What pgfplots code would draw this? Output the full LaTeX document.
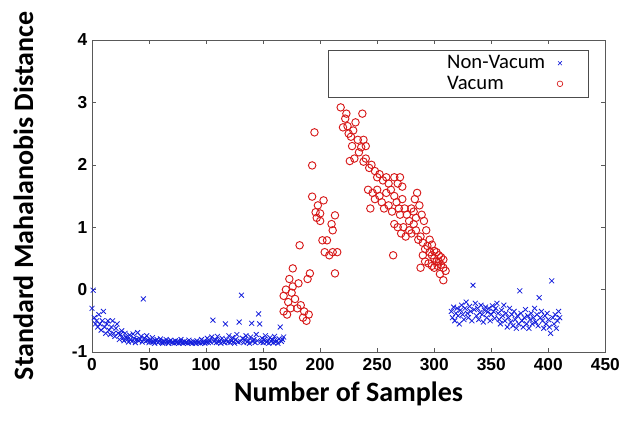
\documentclass[border=0pt]{standalone}
\usepackage{pgfplots}
\pgfplotsset{compat=1.18}
\usepackage{fontspec}
\setmainfont{Liberation Sans}
\newfontfamily\labelfont{Carlito}

\definecolor{nvblue}{RGB}{20,30,220}
\definecolor{vred}{RGB}{215,25,25}

\begin{document}
\begin{tikzpicture}
\begin{axis}[
    name=ax,
    scale only axis,
    width=385pt, height=234pt,
    xmin=0, xmax=450, ymin=-1, ymax=4,
    xtick={0,50,...,450}, ytick={-1,0,...,4},
    tick label style={font=\bfseries\fontsize{13}{15}\selectfont},
    xticklabel style={yshift=-1pt},
    /pgf/number format/assume math mode=true,
    axis line style={black!65},
    tick style={black!65},
    major tick length=3pt,
    xlabel={\labelfont\bfseries\fontsize{21}{24}\selectfont Number of Samples},
    ylabel={\labelfont\bfseries\fontsize{21}{24}\selectfont Standard Mahalanobis Distance},
    xlabel style={at={(axis description cs:0.5,-0.135)}, anchor=center},
    ylabel style={yshift=22pt},
    legend plot pos=right,
    legend cell align=left,
    legend image post style={mark size=2.1pt, line width=0.5pt},
    legend style={at={(0.967,0.968)}, anchor=north east, draw=black!70,
        font=\labelfont\fontsize{15.5}{17}\selectfont, row sep=0pt,
        inner xsep=19pt, inner ysep=2pt,
        /tikz/every odd column/.append style={column sep=7pt}},
]

% Non-Vacum
\addplot[only marks, mark=x, mark size=2.6pt, color=nvblue, line width=0.6pt] coordinates {
(0,-0.3) (1,-0.01) (2,-0.45) (3,-0.55) (4,-0.5) (5,-0.6) (6,-0.4) (7,-0.55) (8,-0.65) (9,-0.5)
(10,-0.35) (11,-0.6) (12,-0.7) (13,-0.55) (14,-0.5) (15,-0.65) (16,-0.72) (17,-0.6) (18,-0.5) (19,-0.7)
(20,-0.75) (21,-0.62) (22,-0.55) (23,-0.7) (24,-0.8) (25,-0.72) (26,-0.66) (27,-0.78) (28,-0.82) (29,-0.7)
(30,-0.76) (31,-0.8) (32,-0.84) (33,-0.73) (34,-0.8) (35,-0.83) (36,-0.71) (37,-0.78) (38,-0.85) (39,-0.8)
(40,-0.69) (41,-0.82) (42,-0.79) (43,-0.75) (44,-0.84) (45,-0.15) (46,-0.78) (47,-0.83) (48,-0.74) (49,-0.81)
(50,-0.85) (51,-0.8) (52,-0.84) (53,-0.77) (54,-0.83) (55,-0.86) (56,-0.82) (57,-0.8) (58,-0.85) (59,-0.83)
(60,-0.79) (61,-0.84) (62,-0.86) (63,-0.82) (64,-0.85) (65,-0.8) (66,-0.84) (67,-0.86) (68,-0.83) (69,-0.81)
(70,-0.85) (71,-0.84) (72,-0.86) (73,-0.82) (74,-0.85) (75,-0.83) (76,-0.86) (77,-0.84) (78,-0.8) (79,-0.85)
(80,-0.86) (81,-0.83) (82,-0.85) (83,-0.84) (84,-0.86) (85,-0.81) (86,-0.85) (87,-0.84) (88,-0.86) (89,-0.83)
(90,-0.85) (91,-0.86) (92,-0.82) (93,-0.85) (94,-0.84) (95,-0.86) (96,-0.8) (97,-0.85) (98,-0.83) (99,-0.86)
(100,-0.84) (101,-0.78) (102,-0.85) (103,-0.82) (104,-0.84) (105,-0.76) (106,-0.49) (107,-0.83) (108,-0.8) (109,-0.85)
(110,-0.75) (111,-0.84) (112,-0.82) (113,-0.86) (114,-0.78) (115,-0.83) (116,-0.85) (117,-0.55) (118,-0.8) (119,-0.84)
(120,-0.74) (121,-0.85) (122,-0.82) (123,-0.77) (124,-0.84) (125,-0.86) (126,-0.8) (127,-0.72) (128,-0.84) (129,-0.52)
(130,-0.83) (131,-0.09) (132,-0.78) (133,-0.85) (134,-0.8) (135,-0.74) (136,-0.84) (137,-0.82) (138,-0.86) (139,-0.76)
(140,-0.54) (141,-0.83) (142,-0.8) (143,-0.85) (144,-0.72) (145,-0.82) (146,-0.39) (147,-0.55) (148,-0.84) (149,-0.78)
(150,-0.85) (151,-0.8) (152,-0.74) (153,-0.84) (154,-0.82) (155,-0.86) (156,-0.77) (157,-0.83) (158,-0.8) (159,-0.85)
(160,-0.75) (161,-0.84) (162,-0.82) (163,-0.86) (164,-0.79) (165,-0.6) (166,-0.83) (167,-0.8) (168,-0.76)
(315,-0.35) (316,-0.45) (317,-0.28) (318,-0.5) (319,-0.38) (320,-0.3) (321,-0.42) (322,-0.55) (323,-0.33) (324,-0.25)
(325,-0.4) (326,-0.48) (327,-0.3) (328,-0.2) (329,-0.38) (330,-0.45) (331,-0.27) (332,-0.35) (333,-0.5) (334,0.07)
(335,-0.32) (336,-0.22) (337,-0.42) (338,-0.3) (339,-0.48) (340,-0.37) (341,-0.25) (342,-0.4) (343,-0.52) (344,-0.33)
(345,-0.28) (346,-0.45) (347,-0.36) (348,-0.3) (349,-0.5) (350,-0.4) (351,-0.26) (352,-0.35) (353,-0.46) (354,-0.3)
(355,-0.22) (356,-0.38) (357,-0.48) (358,-0.55) (359,-0.33) (360,-0.42) (361,-0.25) (362,-0.5) (363,-0.38) (364,-0.6)
(365,-0.45) (366,-0.3) (367,-0.52) (368,-0.4) (369,-0.58) (370,-0.35) (371,-0.48) (372,-0.62) (373,-0.42) (374,-0.55)
(375,-0.02) (376,-0.38) (377,-0.5) (378,-0.6) (379,-0.45) (380,-0.32) (381,-0.55) (382,-0.42) (383,-0.62) (384,-0.48)
(385,-0.38) (386,-0.55) (387,-0.45) (388,-0.3) (389,-0.52) (390,-0.4) (391,-0.58) (392,-0.13) (393,-0.45) (394,-0.35)
(395,-0.5) (396,-0.62) (397,-0.42) (398,-0.55) (399,-0.38) (400,-0.48) (401,-0.6) (402,-0.7) (403,0.14) (404,-0.45)
(405,-0.55) (406,-0.4) (407,-0.62) (408,-0.5) (409,-0.35) (410,-0.45)
};

% Vacum
\addplot[only marks, mark=o, mark size=2.8pt, color=vred, line width=0.7pt] coordinates {
(176,0.34) (191,0.26) (189,0.17) (173,0.17) (170,0.0) (168,-0.1) (172,-0.2) (175,-0.05) (178,-0.15) (180,-0.3)
(183,-0.25) (168,-0.35) (171,-0.4) (185,-0.45) (188,-0.5) (190,-0.4) (176,0.05) (181,0.1) (186,-0.35) (174,-0.3)
(195,2.52) (193,1.99) (193,1.49) (203,1.43) (196,1.24) (200,1.22) (213,1.19) (211,0.95) (202,0.79) (206,0.79)
(204,0.6) (215,0.6) (211,0.6) (213,0.26) (182,0.71) (198,1.35) (200,1.1) (208,0.55) (210,1.05) (197,1.15)
(218,2.92) (237,2.82) (223,2.82) (222,2.74) (231,2.68) (220,2.6) (225,2.5) (227,2.45) (233,2.4) (238,2.4)
(228,2.3) (236,2.28) (230,2.1) (226,2.06) (240,2.1) (224,2.62) (229,2.55) (234,2.2)
(245,2.0) (248,1.9) (250,1.8) (252,1.85) (255,1.75) (258,1.8) (260,1.7) (262,1.6) (250,1.6) (246,1.55)
(248,1.45) (252,1.5) (254,1.4) (256,1.3) (258,1.55) (260,1.35) (263,1.25) (265,1.5) (267,1.4) (269,1.3)
(270,1.2) (272,1.45) (274,1.3) (276,1.2) (278,1.1) (265,1.05) (268,1.0) (271,0.9) (273,1.0) (275,0.85)
(278,0.95) (280,0.9) (282,1.05) (284,0.95) (286,0.8) (288,0.85) (290,0.75) (292,0.65) (294,0.7) (296,0.6)
(298,0.55) (300,0.5) (302,0.45) (304,0.55) (306,0.4) (308,0.35) (310,0.3) (296,0.8) (298,0.72) (300,0.62)
(302,0.6) (304,0.45) (306,0.52) (308,0.48) (292,0.45) (295,0.42) (298,0.38) (300,0.35) (303,0.38) (305,0.25)
(290,0.55) (288,0.35) (264,0.55) (285,1.55) (283,1.45) (287,1.35) (289,1.2) (291,1.1) (293,0.95) (280,1.3)
(282,1.25) (284,1.15) (270,1.8) (272,1.65) (268,1.7) (265,1.8) (242,1.6) (244,1.3) (240,2.3) (238,2.05)
(243,1.95) (308,0.15)
};
\legend{\hspace*{68pt}Non-Vacum, \hspace*{68pt}Vacum}
\end{axis}
\pgfresetboundingbox
\path ([shift={(-69pt,-57pt)}]ax.south west) rectangle ++(465pt,321pt);
\end{tikzpicture}
\end{document}
